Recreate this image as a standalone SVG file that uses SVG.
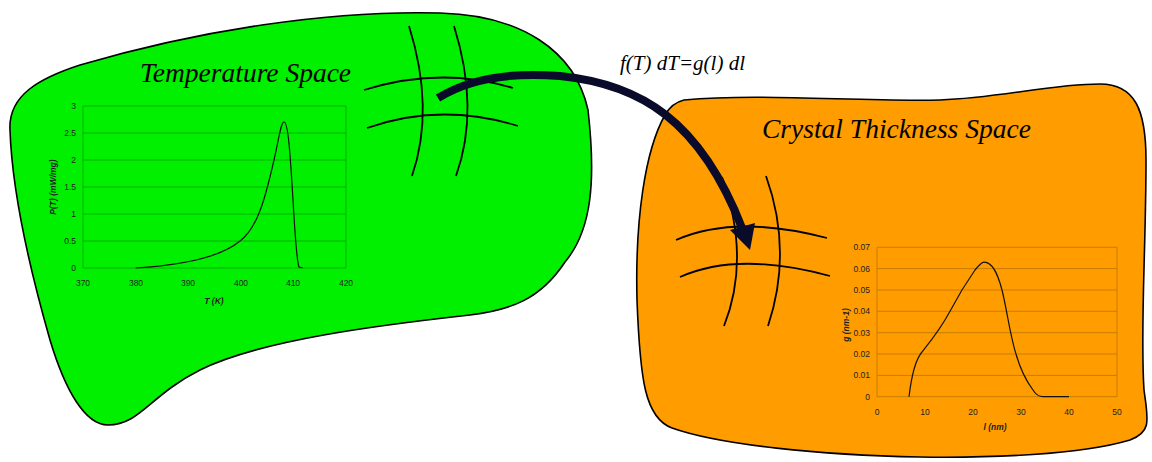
<svg xmlns="http://www.w3.org/2000/svg" width="1152" height="462" viewBox="0 0 1152 462">
<style>
.blob{stroke:#000;stroke-width:1.6}
.title{font-family:"Liberation Serif",serif;font-style:italic;fill:#000}
.grid{fill:none;stroke:#000;stroke-width:1.8;stroke-linecap:butt}
.tick{font-family:"Liberation Sans",Arial,sans-serif;font-size:8.5px;fill:#222}
.axt{font-family:"Liberation Sans",Arial,sans-serif;font-size:8.5px;font-weight:bold;font-style:italic;fill:#222}
.gg{stroke:#00a800;stroke-width:0.9}
.og{stroke:#c27a00;stroke-width:0.9}
.curve{fill:none;stroke:#111;stroke-width:1.2;stroke-linejoin:round}
</style>
<rect width="1152" height="462" fill="#fff"/>

<g id="temperature-space">
<path class="blob" fill="#00f000" d="M 10,130 C 8,95 40,78 80,65 C 200,30 330,10 440,13 C 520,15 575,50 588,110 C 596,180 592,230 565,262 C 540,300 510,310 470,315 C 380,325 260,340 200,370 C 150,395 140,425 108,425 C 85,425 65,390 50,340 C 30,270 12,190 10,130 Z"/>
<text class="title" x="140" y="82" font-size="27.5">Temperature Space</text>
<g id="temperature-chart">
<g class="gg">
<line x1="83" y1="106" x2="346" y2="106"/>
<line x1="83" y1="133" x2="346" y2="133"/>
<line x1="83" y1="160" x2="346" y2="160"/>
<line x1="83" y1="187" x2="346" y2="187"/>
<line x1="83" y1="214" x2="346" y2="214"/>
<line x1="83" y1="241" x2="346" y2="241"/>
<line x1="83" y1="268" x2="346" y2="268"/>
<line x1="83" y1="106" x2="83" y2="268"/>
<line x1="346" y1="106" x2="346" y2="268"/>
</g>
<g class="tick" text-anchor="end">
<text x="76" y="109">3</text>
<text x="76" y="136">2.5</text>
<text x="76" y="163">2</text>
<text x="76" y="190">1.5</text>
<text x="76" y="217">1</text>
<text x="76" y="244">0.5</text>
<text x="76" y="271">0</text>
</g>
<g class="tick" text-anchor="middle">
<text x="83" y="286">370</text>
<text x="136" y="286">380</text>
<text x="188" y="286">390</text>
<text x="241" y="286">400</text>
<text x="293" y="286">410</text>
<text x="346" y="286">420</text>
</g>
<text class="axt" x="214" y="304" text-anchor="middle">T (K)</text>
<text class="axt" transform="translate(56,187) rotate(-90)" text-anchor="middle">P(T) (mW/mg)</text>
<path class="curve" d="M 135.7,268 C 185,265 222,256 240,241 C 258,228 266,195 274,160 C 279,138 281,122 284,122 C 288,122 290,150 293,200 C 295,235 297,262 299,267 L 302.6,268"/>
</g>
<path class="grid" d="M409,26 Q435,109 412,176"/>
<path class="grid" d="M454,26 Q480,109 456,176"/>
<path class="grid" d="M364,90 Q441,66 513,88"/>
<path class="grid" d="M367,128 Q441,102 518,126"/>
</g>

<g id="crystal-thickness-space">
<path class="blob" fill="#ff9c00" d="M 684,100 C 760,93 860,102 940,100 C 1000,98 1050,84 1100,84 C 1135,84 1146,110 1146,160 C 1146,250 1140,330 1144,390 C 1148,420 1152,432 1130,440 C 1080,455 990,458 920,457 C 820,455 720,445 672,428 C 645,418 640,380 637,300 C 635,220 645,150 665,115 C 670,106 676,102 684,100 Z"/>
<text class="title" x="762" y="138" font-size="27.5">Crystal Thickness Space</text>
<g id="thickness-chart">
<g class="og">
<line x1="877" y1="247.3" x2="1117" y2="247.3"/>
<line x1="877" y1="268.6" x2="1117" y2="268.6"/>
<line x1="877" y1="290" x2="1117" y2="290"/>
<line x1="877" y1="311.3" x2="1117" y2="311.3"/>
<line x1="877" y1="332.7" x2="1117" y2="332.7"/>
<line x1="877" y1="354" x2="1117" y2="354"/>
<line x1="877" y1="375.4" x2="1117" y2="375.4"/>
<line x1="877" y1="396.7" x2="1117" y2="396.7"/>
<line x1="877" y1="247.3" x2="877" y2="396.7"/>
<line x1="1117" y1="247.3" x2="1117" y2="396.7"/>
</g>
<g class="tick" text-anchor="end">
<text x="870" y="250.3">0.07</text>
<text x="870" y="271.6">0.06</text>
<text x="870" y="293">0.05</text>
<text x="870" y="314.3">0.04</text>
<text x="870" y="335.7">0.03</text>
<text x="870" y="357">0.02</text>
<text x="870" y="378.4">0.01</text>
<text x="870" y="399.7">0</text>
</g>
<g class="tick" text-anchor="middle">
<text x="877" y="415">0</text>
<text x="925" y="415">10</text>
<text x="973" y="415">20</text>
<text x="1021" y="415">30</text>
<text x="1069" y="415">40</text>
<text x="1117" y="415">50</text>
</g>
<text class="axt" x="995" y="430" text-anchor="middle">l (nm)</text>
<text class="axt" transform="translate(849,325) rotate(-90)" text-anchor="middle">g (nm-1)</text>
<path class="curve" d="M 909,396.7 C 911,380 915,360 922,352 C 930,342 940,330 950,311.3 C 960,292 968,280 975,270 C 980,264 982,262 984,262.2 C 993,262 998,275 1002,290 C 1007,310 1010,335 1016,354 C 1020,368 1027,382 1033,390 C 1036,395 1039,396.7 1043,396.7 L 1069,396.7"/>
</g>
<path class="grid" d="M722,177 Q751,258 724,326"/>
<path class="grid" d="M766,176 Q793,251 768,326"/>
<path class="grid" d="M676,240 Q735,214 827,238"/>
<path class="grid" d="M680,277 Q738,251 830,276"/>
</g>

<g id="connectors">
<path fill="none" stroke="#0a0a2a" stroke-width="8" d="M 438,98 C 470,78 510,72 560,76 C 640,84 700,120 742,228"/>
<polygon fill="#0a0a2a" points="730,230 755,223 750,250"/>
<text class="title" x="620" y="70" font-size="21">f(T) dT=g(l) dl</text>
</g>
</svg>
